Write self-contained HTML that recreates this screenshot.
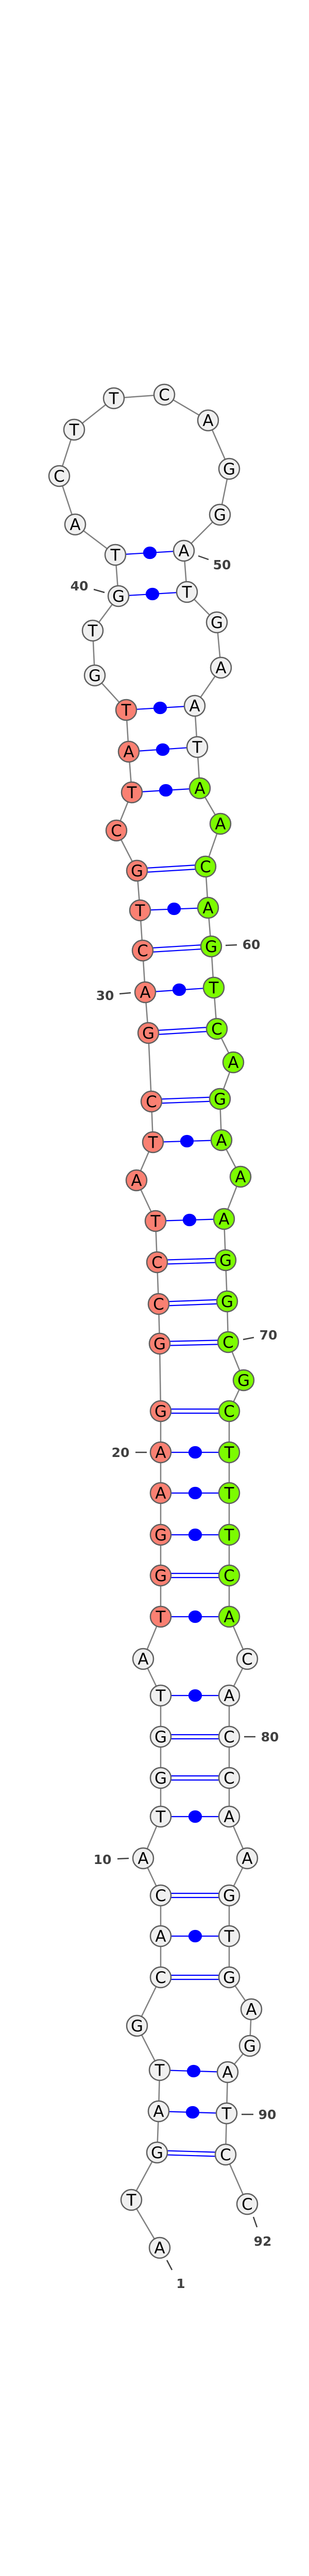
<!DOCTYPE html>
<html><head><meta charset="utf-8"><style>
html,body{margin:0;padding:0;background:#fff;width:600px;height:5143px;overflow:hidden}
svg{display:block}
.n{stroke:#5f5f5f;stroke-width:2.5}
.w{fill:#f0f0f0}.r{fill:#fa8072}.g{fill:#7cfc00}
.t{font-family:"DejaVu Sans","Liberation Sans",sans-serif;font-size:31px;text-anchor:middle;fill:#000}
.l{font-family:"DejaVu Sans","Liberation Sans",sans-serif;font-size:25px;font-weight:bold;text-anchor:middle;fill:#404040}
.p{stroke:#0000ff;stroke-width:2.2}
.k{stroke:#404040;stroke-width:2.5}
</style></head><body>
<svg width="600" height="5143" viewBox="0 0 600 5143" xmlns="http://www.w3.org/2000/svg">
<polyline fill="none" stroke="#808080" stroke-width="2.5" points="310,4363 255,4270 305,4178 308,4098 310,4018 266,3932 312,3838 312,3758 312,3679 278,3607 312,3526 312,3451 312,3371 312,3291 278,3220 312,3138 312,3058 312,2979 312,2898 312,2819 312,2739 310,2608 308,2531 305,2450 302,2370 265,2291 297,2217 294,2138 288,2005 282,1926 277,1845 272,1767 266,1690 226,1612 256,1538 250,1459 245,1378 184,1311 180,1224 230,1157 224,1077 146,1018 115,924 144,834 221,773 319,766 404,816 445,910 427,999 357,1069 363,1149 421,1208 429,1296 378,1370 383,1450 388,1530 428,1599 399,1682 404,1762 410,1837 415,1917 421,1997 453,2062 427,2133 430,2213 467,2284 435,2366 438,2446 441,2526 443,2605 473,2679 445,2739 445,2819 445,2898 445,2979 445,3058 445,3138 480,3220 445,3291 445,3371 445,3451 445,3526 480,3607 445,3679 445,3758 445,3838 488,3900 485,3971 442,4022 440,4102 438,4182 480,4278"/>
<g class="p" fill="#0000ff">
<line x1="224" y1="1077" x2="357" y2="1069"/><ellipse cx="291" cy="1073" rx="12" ry="11"/>
<line x1="230" y1="1157" x2="363" y2="1149"/><ellipse cx="296" cy="1153" rx="12" ry="11"/>
<line x1="245" y1="1378" x2="378" y2="1370"/><ellipse cx="311" cy="1374" rx="12" ry="11"/>
<line x1="250" y1="1459" x2="383" y2="1450"/><ellipse cx="316" cy="1455" rx="12" ry="11"/>
<line x1="256" y1="1538" x2="388" y2="1530"/><ellipse cx="322" cy="1534" rx="12" ry="11"/>
<line x1="272" y1="1767" x2="404" y2="1762"/><ellipse cx="338" cy="1764" rx="12" ry="11"/>
<line x1="282" y1="1926" x2="415" y2="1917"/><ellipse cx="348" cy="1921" rx="12" ry="11"/>
<line x1="297" y1="2217" x2="430" y2="2213"/><ellipse cx="363" cy="2215" rx="12" ry="11"/>
<line x1="302" y1="2370" x2="435" y2="2366"/><ellipse cx="368" cy="2368" rx="12" ry="11"/>
<line x1="312" y1="2819" x2="445" y2="2819"/><ellipse cx="379" cy="2819" rx="12" ry="11"/>
<line x1="312" y1="2898" x2="445" y2="2898"/><ellipse cx="379" cy="2898" rx="12" ry="11"/>
<line x1="312" y1="2979" x2="445" y2="2979"/><ellipse cx="379" cy="2979" rx="12" ry="11"/>
<line x1="312" y1="3138" x2="445" y2="3138"/><ellipse cx="379" cy="3138" rx="12" ry="11"/>
<line x1="312" y1="3291" x2="445" y2="3291"/><ellipse cx="379" cy="3291" rx="12" ry="11"/>
<line x1="312" y1="3526" x2="445" y2="3526"/><ellipse cx="379" cy="3526" rx="12" ry="11"/>
<line x1="312" y1="3758" x2="445" y2="3758"/><ellipse cx="379" cy="3758" rx="12" ry="11"/>
<line x1="310" y1="4018" x2="442" y2="4022"/><ellipse cx="376" cy="4020" rx="12" ry="11"/>
<line x1="308" y1="4098" x2="440" y2="4102"/><ellipse cx="374" cy="4100" rx="12" ry="11"/>
</g>
<g class="p">
<line x1="266" y1="1686" x2="399" y2="1678"/><line x1="266" y1="1694" x2="399" y2="1686"/>
<line x1="277" y1="1841" x2="410" y2="1833"/><line x1="277" y1="1849" x2="410" y2="1841"/>
<line x1="288" y1="2001" x2="421" y2="1993"/><line x1="288" y1="2009" x2="421" y2="2001"/>
<line x1="294" y1="2134" x2="427" y2="2129"/><line x1="294" y1="2142" x2="427" y2="2137"/>
<line x1="305" y1="2446" x2="438" y2="2442"/><line x1="305" y1="2454" x2="438" y2="2450"/>
<line x1="308" y1="2527" x2="441" y2="2522"/><line x1="308" y1="2535" x2="441" y2="2530"/>
<line x1="310" y1="2604" x2="443" y2="2601"/><line x1="310" y1="2612" x2="443" y2="2609"/>
<line x1="312" y1="2735" x2="445" y2="2735"/><line x1="312" y1="2743" x2="445" y2="2743"/>
<line x1="312" y1="3054" x2="445" y2="3054"/><line x1="312" y1="3062" x2="445" y2="3062"/>
<line x1="312" y1="3367" x2="445" y2="3367"/><line x1="312" y1="3375" x2="445" y2="3375"/>
<line x1="312" y1="3447" x2="445" y2="3447"/><line x1="312" y1="3455" x2="445" y2="3455"/>
<line x1="312" y1="3675" x2="445" y2="3675"/><line x1="312" y1="3683" x2="445" y2="3683"/>
<line x1="312" y1="3834" x2="445" y2="3834"/><line x1="312" y1="3842" x2="445" y2="3842"/>
<line x1="305" y1="4174" x2="438" y2="4178"/><line x1="305" y1="4182" x2="438" y2="4186"/>
</g>
<g class="k">
<line x1="324" y1="4387" x2="334" y2="4406"/>
<line x1="492" y1="4303" x2="499" y2="4323"/>
<line x1="469" y1="4104" x2="492" y2="4104"/>
<line x1="228" y1="3608" x2="250" y2="3607"/>
<line x1="474" y1="3371" x2="496" y2="3371"/>
<line x1="263" y1="2819" x2="285" y2="2819"/>
<line x1="472" y1="2600" x2="493" y2="2596"/>
<line x1="232" y1="1929" x2="254" y2="1927"/>
<line x1="438" y1="1835" x2="460" y2="1834"/>
<line x1="385" y1="1079" x2="405" y2="1086"/>
<line x1="182" y1="1144" x2="203" y2="1150"/>
</g>
<g>
<text class="l" x="351" y="4441">1</text>
<text class="l" x="510" y="4359">92</text>
<text class="l" x="519" y="4113">90</text>
<text class="l" x="199" y="3618">10</text>
<text class="l" x="524" y="3380">80</text>
<text class="l" x="234" y="2828">20</text>
<text class="l" x="521" y="2600">70</text>
<text class="l" x="204" y="1941">30</text>
<text class="l" x="488" y="1842">60</text>
<text class="l" x="431" y="1105">50</text>
<text class="l" x="154" y="1146">40</text>
</g>
<g class="n">
<circle class="w" cx="310" cy="4363" r="20"/><circle class="w" cx="255" cy="4270" r="20"/><circle class="w" cx="305" cy="4178" r="20"/><circle class="w" cx="308" cy="4098" r="20"/><circle class="w" cx="310" cy="4018" r="20"/><circle class="w" cx="266" cy="3932" r="20"/><circle class="w" cx="312" cy="3838" r="20"/><circle class="w" cx="312" cy="3758" r="20"/><circle class="w" cx="312" cy="3679" r="20"/><circle class="w" cx="278" cy="3607" r="20"/><circle class="w" cx="312" cy="3526" r="20"/><circle class="w" cx="312" cy="3451" r="20"/><circle class="w" cx="312" cy="3371" r="20"/><circle class="w" cx="312" cy="3291" r="20"/><circle class="w" cx="278" cy="3220" r="20"/>
<circle class="r" cx="312" cy="3138" r="20"/><circle class="r" cx="312" cy="3058" r="20"/><circle class="r" cx="312" cy="2979" r="20"/><circle class="r" cx="312" cy="2898" r="20"/><circle class="r" cx="312" cy="2819" r="20"/><circle class="r" cx="312" cy="2739" r="20"/><circle class="r" cx="310" cy="2608" r="20"/><circle class="r" cx="308" cy="2531" r="20"/><circle class="r" cx="305" cy="2450" r="20"/><circle class="r" cx="302" cy="2370" r="20"/><circle class="r" cx="265" cy="2291" r="20"/><circle class="r" cx="297" cy="2217" r="20"/><circle class="r" cx="294" cy="2138" r="20"/><circle class="r" cx="288" cy="2005" r="20"/><circle class="r" cx="282" cy="1926" r="20"/><circle class="r" cx="277" cy="1845" r="20"/><circle class="r" cx="272" cy="1767" r="20"/><circle class="r" cx="266" cy="1690" r="20"/><circle class="r" cx="226" cy="1612" r="20"/><circle class="r" cx="256" cy="1538" r="20"/><circle class="r" cx="250" cy="1459" r="20"/><circle class="r" cx="245" cy="1378" r="20"/>
<circle class="w" cx="184" cy="1311" r="20"/><circle class="w" cx="180" cy="1224" r="20"/><circle class="w" cx="230" cy="1157" r="20"/><circle class="w" cx="224" cy="1077" r="20"/><circle class="w" cx="146" cy="1018" r="20"/><circle class="w" cx="115" cy="924" r="20"/><circle class="w" cx="144" cy="834" r="20"/><circle class="w" cx="221" cy="773" r="20"/><circle class="w" cx="319" cy="766" r="20"/><circle class="w" cx="404" cy="816" r="20"/><circle class="w" cx="445" cy="910" r="20"/><circle class="w" cx="427" cy="999" r="20"/><circle class="w" cx="357" cy="1069" r="20"/><circle class="w" cx="363" cy="1149" r="20"/><circle class="w" cx="421" cy="1208" r="20"/><circle class="w" cx="429" cy="1296" r="20"/><circle class="w" cx="378" cy="1370" r="20"/><circle class="w" cx="383" cy="1450" r="20"/>
<circle class="g" cx="388" cy="1530" r="20"/><circle class="g" cx="428" cy="1599" r="20"/><circle class="g" cx="399" cy="1682" r="20"/><circle class="g" cx="404" cy="1762" r="20"/><circle class="g" cx="410" cy="1837" r="20"/><circle class="g" cx="415" cy="1917" r="20"/><circle class="g" cx="421" cy="1997" r="20"/><circle class="g" cx="453" cy="2062" r="20"/><circle class="g" cx="427" cy="2133" r="20"/><circle class="g" cx="430" cy="2213" r="20"/><circle class="g" cx="467" cy="2284" r="20"/><circle class="g" cx="435" cy="2366" r="20"/><circle class="g" cx="438" cy="2446" r="20"/><circle class="g" cx="441" cy="2526" r="20"/><circle class="g" cx="443" cy="2605" r="20"/><circle class="g" cx="473" cy="2679" r="20"/><circle class="g" cx="445" cy="2739" r="20"/><circle class="g" cx="445" cy="2819" r="20"/><circle class="g" cx="445" cy="2898" r="20"/><circle class="g" cx="445" cy="2979" r="20"/><circle class="g" cx="445" cy="3058" r="20"/><circle class="g" cx="445" cy="3138" r="20"/>
<circle class="w" cx="480" cy="3220" r="20"/><circle class="w" cx="445" cy="3291" r="20"/><circle class="w" cx="445" cy="3371" r="20"/><circle class="w" cx="445" cy="3451" r="20"/><circle class="w" cx="445" cy="3526" r="20"/><circle class="w" cx="480" cy="3607" r="20"/><circle class="w" cx="445" cy="3679" r="20"/><circle class="w" cx="445" cy="3758" r="20"/><circle class="w" cx="445" cy="3838" r="20"/><circle class="w" cx="488" cy="3900" r="20"/><circle class="w" cx="485" cy="3971" r="20"/><circle class="w" cx="442" cy="4022" r="20"/><circle class="w" cx="440" cy="4102" r="20"/><circle class="w" cx="438" cy="4182" r="20"/><circle class="w" cx="480" cy="4278" r="20"/>
</g>
<g class="t">
<text x="310" y="4374">A</text><text x="255" y="4281">T</text><text x="305" y="4189">G</text><text x="308" y="4109">A</text><text x="310" y="4029">T</text><text x="266" y="3943">G</text><text x="312" y="3849">C</text><text x="312" y="3769">A</text><text x="312" y="3690">C</text><text x="278" y="3618">A</text><text x="312" y="3537">T</text><text x="312" y="3462">G</text><text x="312" y="3382">G</text><text x="312" y="3302">T</text><text x="278" y="3231">A</text>
<text x="312" y="3149">T</text><text x="312" y="3069">G</text><text x="312" y="2990">G</text><text x="312" y="2909">A</text><text x="312" y="2830">A</text><text x="312" y="2750">G</text><text x="310" y="2619">G</text><text x="308" y="2542">C</text><text x="305" y="2461">C</text><text x="302" y="2381">T</text><text x="265" y="2302">A</text><text x="297" y="2228">T</text><text x="294" y="2149">C</text><text x="288" y="2016">G</text><text x="282" y="1937">A</text><text x="277" y="1856">C</text><text x="272" y="1778">T</text><text x="266" y="1701">G</text><text x="226" y="1623">C</text><text x="256" y="1549">T</text><text x="250" y="1470">A</text><text x="245" y="1389">T</text>
<text x="184" y="1322">G</text><text x="180" y="1235">T</text><text x="230" y="1168">G</text><text x="224" y="1088">T</text><text x="146" y="1029">A</text><text x="115" y="935">C</text><text x="144" y="845">T</text><text x="221" y="784">T</text><text x="319" y="777">C</text><text x="404" y="827">A</text><text x="445" y="921">G</text><text x="427" y="1010">G</text><text x="357" y="1080">A</text><text x="363" y="1160">T</text><text x="421" y="1219">G</text><text x="429" y="1307">A</text><text x="378" y="1381">A</text><text x="383" y="1461">T</text>
<text x="388" y="1541">A</text><text x="428" y="1610">A</text><text x="399" y="1693">C</text><text x="404" y="1773">A</text><text x="410" y="1848">G</text><text x="415" y="1928">T</text><text x="421" y="2008">C</text><text x="453" y="2073">A</text><text x="427" y="2144">G</text><text x="430" y="2224">A</text><text x="467" y="2295">A</text><text x="435" y="2377">A</text><text x="438" y="2457">G</text><text x="441" y="2537">G</text><text x="443" y="2616">C</text><text x="473" y="2690">G</text><text x="445" y="2750">C</text><text x="445" y="2830">T</text><text x="445" y="2909">T</text><text x="445" y="2990">T</text><text x="445" y="3069">C</text><text x="445" y="3149">A</text>
<text x="480" y="3231">C</text><text x="445" y="3302">A</text><text x="445" y="3382">C</text><text x="445" y="3462">C</text><text x="445" y="3537">A</text><text x="480" y="3618">A</text><text x="445" y="3690">G</text><text x="445" y="3769">T</text><text x="445" y="3849">G</text><text x="488" y="3911">A</text><text x="485" y="3982">G</text><text x="442" y="4033">A</text><text x="440" y="4113">T</text><text x="438" y="4193">C</text><text x="480" y="4289">C</text>
</g>
<text x="300" y="5134" style="font-family:'DejaVu Sans','Liberation Sans',sans-serif;font-size:10px;font-weight:bold;text-anchor:middle;fill:#000">dan_230_annot [-31.4]</text>
</svg>
</body></html>
